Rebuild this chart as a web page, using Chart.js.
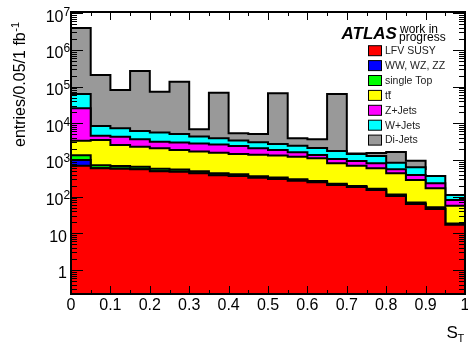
<!DOCTYPE html>
<html><head><meta charset="utf-8">
<script src="https://cdn.jsdelivr.net/npm/chart.js@4/dist/chart.umd.min.js"></script>
<style>html,body{margin:0;padding:0;background:#fff;overflow:hidden}</style>
</head><body>
<canvas id="c" width="468" height="343"></canvas>
<script>
// ---- data (bin low edges of S_T, width 0.05; last edge = 1) ----
const binEdges = [0,0.05,0.1,0.15,0.2,0.25,0.3,0.35,0.4,0.45,0.5,0.55,0.6,0.65,0.7,0.75,0.8,0.85,0.9,0.95,1.0];
const xTickLabels = ['0','0.1','0.2','0.3','0.4','0.5','0.6','0.7','0.8','0.9','1'];
const yDecades = [0,1,2,3,4,5,6,7];

const lfvSusy   = [700,594,579,558,492,479,434,382,366,329,303,272,246,208,183,152,104,63,46,17];
const diboson   = [300,4,3,3,3,2,2,2,2,2,2,2,1,1,1,1,1,1,1,0.5];
const singleTop = [342,119,104,95,84,72,55,48,40,30,28,26,20,14,12,12,9,5,4,1];
const ttbar     = [2015,2793,1877,1648,1505,1316,1204,1147,1050,1018,993,926,845,590,504,427,319,217,118,38];
const zJets     = [22300,1090,1750,1360,1070,1130,1130,1060,950,716,547,392,256,252,240,218,123,105,62,25];
const wJets     = [37400,3860,3000,2510,2470,2110,1560,1260,994,953,857,832,755,695,518,473,287,242,135,30];
const diJets    = [3910000,199000,73700,261000,67200,131000,2500,64500,1940,2080,63100,1450,1540,61300,50,270,810,320,170,0];

const seriesLabels = ['LFV SUSY','WW, WZ, ZZ','single Top','tt\u0304','Z+Jets','W+Jets','Di-Jets'];
const seriesValues = [lfvSusy, diboson, singleTop, ttbar, zJets, wJets, diJets];
const seriesColors = ['#ff0000','#0000ff','#00ff00','#ffff00','#ff00ff','#00ffff','#999999'];

const FONT = '"Liberation Sans", Arial, Helvetica, sans-serif';
const nBins = binEdges.length - 1;

const decor = {
  id: 'decor',
  afterDatasetsDraw(chart) {
    const {ctx, chartArea: a, scales: {x, y}} = chart;
    ctx.save();
    // ticks (inward, mirrored)
    ctx.strokeStyle = '#000';
    ctx.lineWidth = 1;
    ctx.beginPath();
    binEdges.forEach((v, i) => {
      const px = Math.round(x.getPixelForValue(v)) + 0.5;
      const len = i % 2 === 0 ? 8 : 4;
      ctx.moveTo(px, a.bottom); ctx.lineTo(px, a.bottom - len);
      ctx.moveTo(px, a.top); ctx.lineTo(px, a.top + len);
    });
    for (let d = -1; d <= 7; d++) {
      for (let m = 1; m <= 9; m++) {
        const v = m * Math.pow(10, d);
        if (v < y.min || v > y.max) continue;
        const py = Math.round(y.getPixelForValue(v)) + 0.5;
        const len = m === 1 ? 12 : 6;
        ctx.moveTo(a.left, py); ctx.lineTo(a.left + len, py);
        ctx.moveTo(a.right, py); ctx.lineTo(a.right - len, py);
      }
    }
    ctx.stroke();
    // frame
    ctx.lineWidth = 2;
    ctx.strokeRect(a.left, a.top, a.right - a.left, a.bottom - a.top);

    // y tick labels
    ctx.fillStyle = '#000';
    ctx.textBaseline = 'alphabetic';
    yDecades.forEach(d => {
      const py = y.getPixelForValue(Math.pow(10, d));
      ctx.font = '16px ' + FONT;
      if (d === 0 || d === 1) {
        ctx.textAlign = 'right';
        ctx.fillText(d === 0 ? '1' : '10', a.left - 4, py + 8.5);
      } else {
        ctx.textAlign = 'right';
        ctx.fillText('10', a.left - 7.5, py + 8.5);
        ctx.font = '12px ' + FONT;
        ctx.textAlign = 'left';
        ctx.fillText(String(d), a.left - 7.5, py + 2.5);
      }
    });

    // y title
    ctx.save();
    ctx.translate(25, 147);
    ctx.rotate(-Math.PI / 2);
    ctx.textAlign = 'left';
    ctx.font = '16px ' + FONT;
    const t1 = 'entries/0.05/1 fb';
    ctx.fillText(t1, 0, 0);
    const w1 = ctx.measureText(t1).width;
    ctx.font = '11px ' + FONT;
    ctx.fillText('-1', w1 + 0.5, -6);
    ctx.restore();

    // x title
    ctx.textAlign = 'left';
    ctx.font = '17px ' + FONT;
    ctx.fillText('S', 446.5, 338);
    ctx.font = '11px ' + FONT;
    ctx.fillText('T', 457.5, 342);

    // ATLAS label
    ctx.font = 'italic bold 17px ' + FONT;
    ctx.fillText('ATLAS', 341.5, 39.3);
    ctx.font = '12px ' + FONT;
    ctx.fillText('work in', 400, 33);
    ctx.fillText('progress', 399, 40.5);

    // legend
    chart.data.datasets.forEach((ds, k) => {
      const cy = 50.7 + k * 14.9;
      ctx.fillStyle = ds.backgroundColor;
      ctx.fillRect(368.5, cy - 5, 13, 10);
      ctx.lineWidth = 1;
      ctx.strokeStyle = '#000';
      ctx.strokeRect(368.5, cy - 5, 13, 10);
      ctx.fillStyle = '#222';
      ctx.font = '10.5px ' + FONT;
      ctx.textAlign = 'left';
      ctx.textBaseline = 'middle';
      if (ds.label === 'tt\u0304') {
        ctx.fillText('tt', 385, cy + 0.5);
        const wt = ctx.measureText('t').width;
        ctx.beginPath();
        ctx.moveTo(385 + wt + 0.2, cy - 3.5);
        ctx.lineTo(385 + 2 * wt + 0.3, cy - 3.5);
        ctx.strokeStyle = '#222';
        ctx.stroke();
      } else {
        ctx.fillText(ds.label, 385, cy + 0.5);
      }
    });
    ctx.restore();
  }
};

new Chart(document.getElementById('c'), {
  type: 'line',
  data: {
    datasets: seriesLabels.map((lab, k) => ({
      label: lab,
      data: binEdges.map((e, i) => ({x: e, y: seriesValues[k][Math.min(i, nBins - 1)]})),
      stepped: 'before',
      fill: k === 0 ? 'start' : '-1',
      backgroundColor: seriesColors[k],
      borderColor: '#000',
      borderWidth: 2,
      borderJoinStyle: 'miter',
      pointRadius: 0,
      pointHoverRadius: 0,
      tension: 0
    }))
  },
  options: {
    responsive: false,
    animation: false,
    devicePixelRatio: 1,
    layout: {padding: {left: 0, right: 3, top: 12, bottom: 0}},
    plugins: {legend: {display: false}, tooltip: {enabled: false}},
    scales: {
      x: {
        type: 'linear', min: 0, max: 1,
        grid: {display: false, drawTicks: false},
        border: {display: false},
        ticks: {
          stepSize: 0.1, autoSkip: false, maxRotation: 0, padding: 2,
          color: '#000', font: {family: FONT, size: 16},
          callback: (v) => {
            const i = Math.round(v * 10);
            return xTickLabels[i];
          }
        },
        afterFit: s => { s.height = 49; s.paddingLeft = 0; s.paddingRight = 0; }
      },
      y: {
        type: 'logarithmic', stacked: true, min: 0.221, max: 1.085e7,
        grid: {display: false, drawTicks: false},
        border: {display: false},
        ticks: {display: false},
        afterFit: s => { s.width = 71; s.paddingTop = 0; s.paddingBottom = 0; }
      }
    }
  },
  plugins: [decor]
});
</script>
</body></html>
